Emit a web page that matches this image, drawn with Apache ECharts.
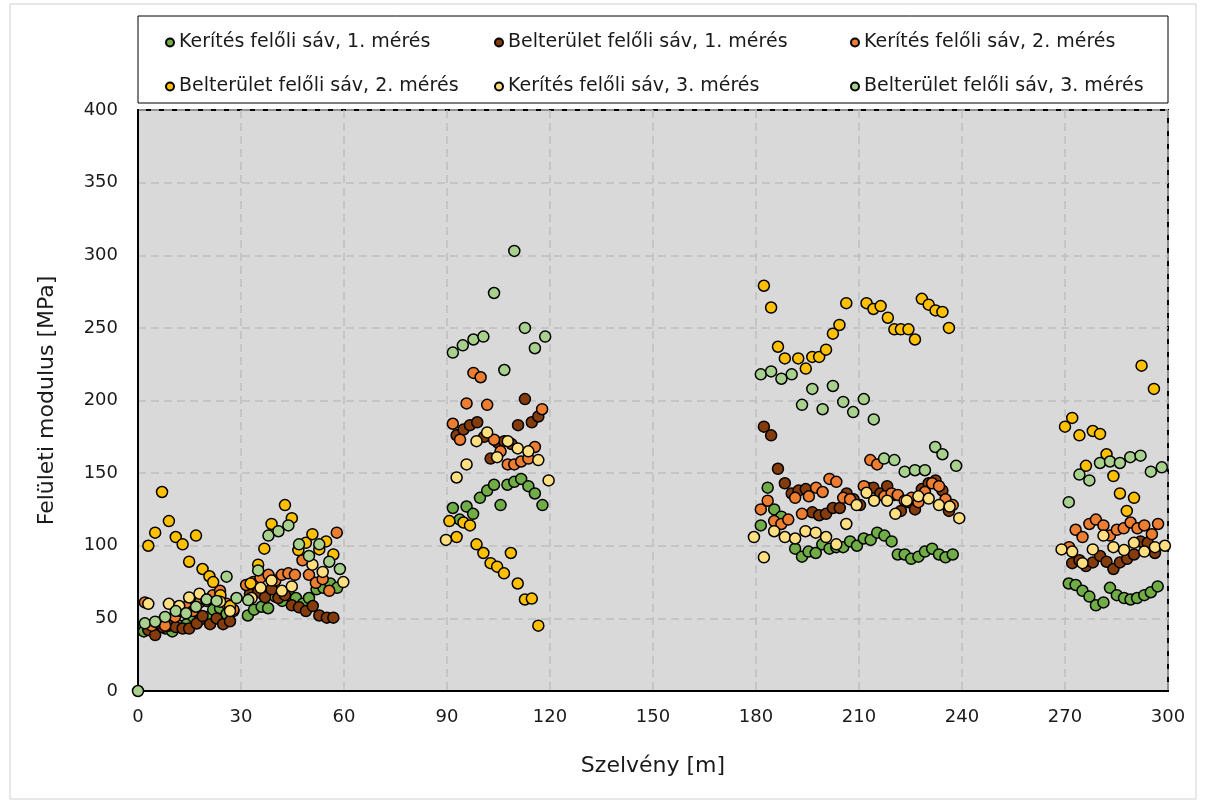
<!DOCTYPE html>
<html><head><meta charset="utf-8">
<script src="https://cdn.jsdelivr.net/npm/echarts@6/dist/echarts.min.js"></script>
<style>html,body{margin:0;padding:0;background:#fff}#c{width:1210px;height:805px}</style>
</head><body><div id="c"></div>
<script>
const seriesNames = ['Kerítés felőli sáv, 1. mérés','Belterület felőli sáv, 1. mérés','Kerítés felőli sáv, 2. mérés','Belterület felőli sáv, 2. mérés','Kerítés felőli sáv, 3. mérés','Belterület felőli sáv, 3. mérés'];
const xTicks = [0,30,60,90,120,150,180,210,240,270,300];
const yTicks = [0,50,100,150,200,250,300,350,400];

const k1 = [[1.7,41],[4,43],[6,44],[8,43],[10,41],[12,45],[14.2,46],[16.1,51],[18,49],[20,51],[21.9,56],[23.9,57],[25.8,53],[27.8,55],[32,52],[33.8,56],[36,58],[37.9,57],[40,65],[42,62],[44,66],[46,64],[48,60],[49.8,64],[52,70],[54,71],[56,74],[58,71],
 [91.7,126],[93.7,118],[95.7,127],[97.6,122],[99.6,133],[101.7,138],[103.7,142],[105.6,128],[107.6,142],[109.6,144],[111.6,146],[113.7,141],[115.6,136],[117.8,128],
 [181.4,114],[183.4,140],[185.3,125],[187.4,120],[191.4,98],[193.4,92.5],[195.3,96],[197.4,95],[199.3,101],[201.4,98],[203.4,99],[205.4,99],[207.4,103],[209.4,100],[211.4,105],[213.4,104],[215.3,109],[217.4,107],[219.5,103],[221.3,94],[223.3,94],[225.2,91],[227.3,92.5],[229.2,96],[231.3,98],[233.3,94],[235.2,92],[237.3,94],
 [271.1,74],[273.1,73],[275.1,69],[277.1,65],[279,59],[281.2,61],[283.1,71],[285.1,66],[287.2,64],[289.1,63],[291,64],[293.1,66],[295,68],[297,72]];
const b1 = [[3,42],[5,38.5],[7.2,44],[9,45],[11,44],[13,43],[14.9,43],[17.1,46.5],[18.8,51.6],[21,46],[22.9,50],[24.8,46],[26.8,48],[32.6,67],[35,68],[37,64.5],[38.9,70],[40.9,64],[42.8,66],[44.8,59],[46.9,57.6],[48.9,55],[50.9,58.5],[52.8,52],[55,50.5],[56.9,50.5],
 [92.8,176],[94.8,180],[96.7,183],[98.8,185],[100.8,175],[102.7,160],[104.8,171],[106.7,172],[108.8,170],[110.7,183],[112.7,201],[114.7,185],[116.6,189],
 [182.3,182],[184.4,176],[186.4,153],[188.4,143],[190.4,136],[192.4,138],[194.5,139],[196.4,123],[198.4,121],[200.4,122],[202.4,126],[204.4,126],[206.4,136],[208.4,132],[210.3,128],[212.3,140],[214.2,140],[216.2,136],[218.2,141],[220.3,135],[222.2,124],[224.3,130],[226.3,125],[228.3,139],[230.3,143],[232.3,145],[234.3,138],[236.2,124],
 [272.1,88],[274.2,90],[276.1,86],[278.1,88.5],[280.2,93],[282.1,89],[284.1,84],[286,88.5],[288.1,91],[290.1,94],[292,103],[294.1,102],[296.2,95]];
const k2 = [[2,61],[4,45],[6,47],[7.9,45],[10.8,51],[12.5,55],[14.2,58],[16,55],[18,61],[20,63],[21.8,66],[23.9,69],[25.8,60],[27.8,56],[31.5,73],[33.6,75],[35.7,78],[38,80],[40,76],[41.9,80],[43.8,81],[45.7,80],[47.9,90],[49.8,80],[51.8,74.5],[53.8,77],[55.7,69],[57.9,109],
 [91.7,184],[93.8,173],[95.7,198],[97.7,219],[99.8,216],[101.7,197],[103.7,173],[105.6,165],[107.7,156],[109.6,156],[111.6,158],[113.7,160],[115.6,168],[117.7,194],
 [181.4,125],[183.4,131],[185.3,117],[187.4,115],[189.4,118],[191.4,133],[193.4,122],[195.4,134],[197.5,140],[199.4,137],[201.4,146],[203.4,144],[205.4,133],[207.4,132],[211.4,141],[213.3,159],[215.3,156],[217.4,134],[219.5,136],[221.3,135],[223.3,131],[225.3,133],[227.3,130],[229.2,137],[231.3,143],[233.3,141],[235.2,132],[237.3,128],
 [271.2,99],[273.1,111],[275.1,106],[277.1,115],[279,118],[281.2,114],[283.1,107],[285.1,111],[287.1,112],[289.1,116],[291.1,112],[293.1,114],[295.3,108],[297.1,115]];
const b2 = [[3,100],[5,109],[7,137],[9,117],[11,106],[13,101],[14.9,89],[16.9,107],[18.8,84],[20.8,79],[21.9,75],[24,66],[26.8,58.5],[32.8,74],[35,87],[36.8,98],[38.9,115],[42.8,128],[44.8,119],[46.7,97],[48.9,102],[50.8,108],[52.8,97.5],[54.8,103],[56.9,94],
 [90.7,117],[92.8,106],[94.8,116],[96.7,114],[98.6,101],[100.6,95],[102.7,88],[104.6,85.6],[106.6,81],[108.6,95],[110.6,74],[112.7,63],[114.7,63.6],[116.6,45],
 [182.3,279],[184.4,264],[186.4,237],[188.4,229],[192.3,229],[194.5,222],[196.4,230],[198.4,230],[200.4,235],[202.4,246],[204.3,252],[206.3,267],[212.2,267],[214.2,263],[216.3,265],[218.4,257],[220.3,249],[222.2,249],[224.4,249],[226.3,242],[228.3,270],[230.3,266],[232.3,262],[234.3,261],[236.2,250],
 [270,182],[272.1,188],[274.2,176],[276.1,155],[278.1,179],[280.2,177],[282.1,163],[284.1,148],[286,136],[288,124],[290.1,133],[292.3,224],[295.9,208]];
const k3 = [[3,60],[9,60],[12,58.5],[14.9,64.4],[17.9,67],[20,62],[23.9,61.5],[26.8,55],[33.1,64],[35.7,71],[38.9,76],[41.9,69],[44.8,72],[50.8,87],[53.8,82],[59.8,75],
 [89.7,104],[92.8,147],[95.7,156],[98.6,172],[101.7,178],[104.6,161],[107.7,172],[110.6,167],[113.7,165],[116.6,159],[119.6,145],
 [179.4,106],[182.3,92],[185.3,110],[188.4,106],[191.4,105],[194.4,110],[197.4,109],[200.4,106],[203.4,101],[206.3,115],[209.3,128],[212.2,136.5],[214.4,131],[218.2,131],[220.6,122],[223.9,131],[227.3,134],[230.3,132.5],[233.3,128],[236.4,127],[239.2,119],
 [269,97.5],[272.1,96],[275.1,88],[278.1,97.5],[281.2,107],[284.1,99],[287.2,97],[290.1,102],[293.1,96],[296.2,99],[299.1,100]];
const b3 = [[0,0],[2,46.6],[5,47.7],[7.9,51],[11,55],[14,53.5],[16.9,58],[20,63],[22.9,62],[25.8,78.7],[28.7,64],[32.1,62.6],[35,83],[38,107],[40.9,110],[43.8,114],[46.9,101],[49.8,93],[52.8,101],[55.7,89],[58.8,84],
 [91.7,233],[94.6,238],[97.7,242],[100.6,244],[103.7,274],[106.7,221],[109.6,303],[112.7,250],[115.6,236],[118.6,244],
 [181.4,218],[184.4,220],[187.4,215],[190.4,218],[193.4,197],[196.4,208],[199.4,194],[202.4,210],[205.4,199],[208.3,192],[211.4,201],[214.3,187],[217.3,160],[220.3,159],[223.3,151],[226.3,152],[229.2,152],[232.2,168],[234.3,163],[238.3,155],
 [271.1,130],[274.2,149],[277.1,145],[280.2,157],[283.1,158],[286,157],[289,161],[292,162],[295,151],[298.2,154]];

const dataSets = [k1,b1,k2,b2,k3,b3];
const colors = ['#70ad47','#843c0c','#ed7d31','#ffc000','#ffdf7f','#a9d18e'];
const FONT = 'DejaVu Sans';
const TXT = '#1a1a1a';

const chart = echarts.init(document.getElementById('c'));
const legendPos = [[160,28],[489,28],[845,28],[160,72],[489,72],[845,72]];
const legends = seriesNames.map((n,i)=>({
  data:[n], left:legendPos[i][0], top:legendPos[i][1], itemWidth:8, itemHeight:8, itemGap:0,
  icon:'circle', textStyle:{fontFamily:FONT,fontSize:19,color:TXT},
  selectedMode:false
}));
chart.setOption({
  animation:false,
  backgroundColor:'#fff',
  graphic:[
    {type:'rect',shape:{x:10,y:4,width:1186,height:795},style:{fill:'none',stroke:'#d0d0d0',lineWidth:1},silent:true,z:-1},
    {type:'rect',shape:{x:138,y:16,width:1030,height:87},style:{fill:'#fff',stroke:'#000',lineWidth:1},silent:true,z:-1}
  ],
  legend:legends,
  grid:{left:138,right:42,top:110,bottom:114,show:true,backgroundColor:'#d9d9d9',borderColor:'#000',borderWidth:2},
  xAxis:{type:'value',min:0,max:300,interval:30,
    name:'Szelvény [m]',nameLocation:'middle',nameGap:64,nameTextStyle:{fontFamily:FONT,fontSize:22,color:TXT},
    axisLine:{show:true,lineStyle:{color:'#000',width:2}},axisTick:{show:false},
    axisLabel:{fontFamily:FONT,fontSize:18,color:TXT,margin:17,formatter:v=>xTicks.includes(v)?String(v):''},
    splitLine:{show:true,lineStyle:{color:'#bfbfbf',type:[8,5],width:1.5}}},
  yAxis:{type:'value',min:0,max:400,interval:50,
    name:'Felületi modulus [MPa]',nameLocation:'middle',nameGap:80,nameTextStyle:{fontFamily:FONT,fontSize:22,color:TXT},
    axisLine:{show:true,lineStyle:{color:'#000',width:2}},axisTick:{show:false},
    axisLabel:{fontFamily:FONT,fontSize:18,color:TXT,margin:20,formatter:v=>yTicks.includes(v)?String(v):''},
    splitLine:{show:true,lineStyle:{color:'#bfbfbf',type:[8,5],width:1.5}}},
  series:dataSets.map((d,i)=>({
    name:seriesNames[i],type:'scatter',data:d,symbol:'circle',symbolSize:11,
    itemStyle:{color:colors[i],borderColor:'#000',borderWidth:1.5,opacity:1}
  }))
});
</script></body></html>
